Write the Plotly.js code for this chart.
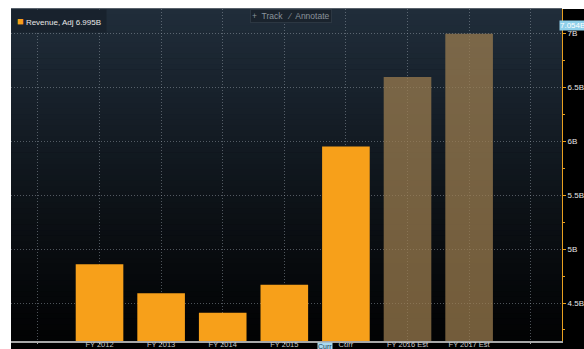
<!DOCTYPE html>
<html>
<head>
<meta charset="utf-8">
<script src="https://cdn.plot.ly/plotly-3.0.1.min.js"></script>
<style>html,body{margin:0;padding:0;background:#fff;}#chart{width:584px;height:349px;}</style>
</head>
<body>
<div id="chart"></div>
<script>
// ---- data ----
const categories = ['FY 2012', 'FY 2013', 'FY 2014', 'FY 2015', 'Curr', 'FY 2016 Est', 'FY 2017 Est'];
const revenue = [4.86, 4.59, 4.41, 4.67, 5.95, 6.595, 6.995];
const isEstimate = [false, false, false, false, false, true, true];
const seriesName = 'Revenue, Adj';
const lastValueLabel = '6.995B';
const axisHighlight = 7.054;
const yTickVals = [4.5, 5, 5.5, 6, 6.5, 7];
const yTickText = ['4.5B', '5B', '5.5B', '6B', '6.5B', '7B'];

// ---- traces ----
const idx = categories.map((_, i) => i);
const act = idx.filter(i => !isEstimate[i]);
const est = idx.filter(i => isEstimate[i]);

const traces = [
  {type: 'bar', x: act, y: act.map(i => revenue[i]), marker: {color: '#f7a01a'},
   hoverinfo: 'skip', showlegend: false, name: seriesName},
  {type: 'bar', x: est, y: est.map(i => revenue[i]), marker: {color: 'rgba(160,128,80,0.72)'},
   hoverinfo: 'skip', showlegend: false, name: seriesName + ' Est'}
];

// ---- background gradient (decorative) ----
const shapes = [];
shapes.push({type: 'rect', xref: 'paper', yref: 'paper', x0: 0, x1: 1.05, y0: -0.03, y1: 1,
  fillcolor: '#000', line: {width: 0}, layer: 'below'});
const N = 60;
const gradTop = [32, 45, 58], gradBot = [2, 3, 4];
for (let k = 0; k < N; k++) {
  const t = k / (N - 1);
  const f = Math.pow(t, 1.15);
  const c = gradTop.map((v, j) => Math.round(gradBot[j] + (v - gradBot[j]) * f));
  shapes.push({type: 'rect', xref: 'paper', yref: 'paper', x0: 0, x1: 1,
    y0: k / N, y1: (k + 1) / N + 0.002,
    fillcolor: `rgb(${c[0]},${c[1]},${c[2]})`, line: {width: 0}, layer: 'below'});
}

const xTickVals = [-1].concat(idx, [categories.length]);
const xTickText = [''].concat(categories, ['']);

const fontFam = '"Liberation Sans", Arial, sans-serif';
const gridCol = 'rgba(150,160,170,0.5)';

const layout = {
  width: 584, height: 349,
  margin: {l: 11, r: 22, t: 9, b: 8, pad: 0},
  paper_bgcolor: '#ffffff',
  plot_bgcolor: 'rgba(0,0,0,0)',
  bargap: 0.227,
  barmode: 'overlay',
  showlegend: false,
  font: {family: fontFam, size: 8, color: '#d8d8d8'},
  xaxis: {
    range: [-1.437, 7.508],
    tickmode: 'array', tickvals: xTickVals, ticktext: xTickText,
    showgrid: true, gridcolor: gridCol, griddash: '1px,2px', gridwidth: 1,
    zeroline: false,
    showline: true, linecolor: '#a8a8a8', linewidth: 1.5,
    ticks: 'outside', ticklen: 1, tickcolor: '#a8a8a8',
    ticklabelstandoff: -6,
    tickfont: {family: fontFam, size: 7.5, color: '#c8c8c8'}
  },
  yaxis: {
    side: 'right',
    range: [4.148, 7.225],
    tickmode: 'array', tickvals: yTickVals, ticktext: yTickText,
    showgrid: true, gridcolor: gridCol, griddash: '1px,2px', gridwidth: 1,
    zeroline: false,
    showline: true, linecolor: '#e8a020', linewidth: 1,
    ticks: 'outside', ticklen: 3, tickcolor: '#e8a020',
    minor: {tickmode: 'linear', tick0: 4.25, dtick: 0.5, ticks: 'outside', ticklen: 2, tickcolor: '#e8a020', showgrid: false},
    tickfont: {family: fontFam, size: 8, color: '#e6e6e6'}
  },
  shapes: shapes,
  annotations: [
    {xref: 'paper', yref: 'paper', x: 0, y: 1, xanchor: 'left', yanchor: 'top',
     text: '<span style="color:#f7a01a;font-size:11px">■</span> ' + seriesName + ' ' + lastValueLabel,
     showarrow: false, bgcolor: '#18222d', borderpad: 5,
     font: {family: fontFam, size: 8, color: '#e8e8e8'}},
    {xref: 'paper', yref: 'paper', x: 0.509, y: 1, xanchor: 'center', yanchor: 'top',
     text: '+  Track   ⁄  Annotate',
     showarrow: false, bgcolor: '#1a232d', bordercolor: '#2c3742', borderwidth: 1, borderpad: 1,
     font: {family: fontFam, size: 8.5, color: '#8a939c'}},
    {xref: 'paper', yref: 'y', x: 1, y: axisHighlight, xanchor: 'left', yanchor: 'middle',
     xshift: -3, yshift: 2, text: axisHighlight.toFixed(3) + 'B',
     showarrow: false, bgcolor: '#8fd0ea', borderpad: 0,
     font: {family: fontFam, size: 8, color: '#ffffff'}},
    {xref: 'x', yref: 'paper', x: categories.indexOf('Curr') - 0.34, y: 0, xanchor: 'center', yanchor: 'top',
     yshift: -1, text: 'Curr', showarrow: false, bgcolor: '#a9d9ee', borderpad: 0,
     font: {family: fontFam, size: 7, color: '#1a3a5a'}}
  ]
};

Plotly.newPlot('chart', traces, layout, {staticPlot: true, displayModeBar: false});
</script>
</body>
</html>
